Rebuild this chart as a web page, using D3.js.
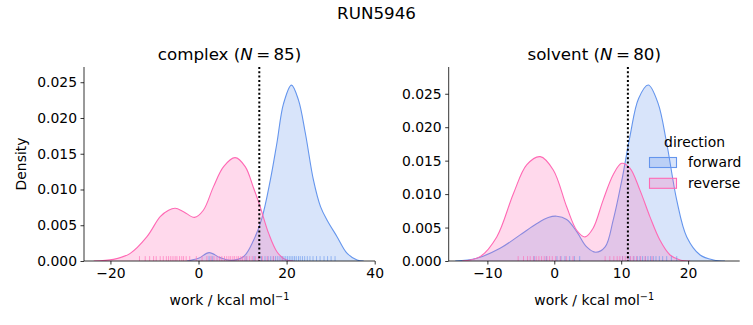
<!DOCTYPE html>
<html>
<head>
<meta charset="utf-8">
<script src="https://cdn.jsdelivr.net/npm/d3@7"></script>
<style>
  body { margin: 0; background: white; }
  svg { font-family: "DejaVu Sans", sans-serif; }
</style>
</head>
<body>
<svg id="chart" width="753" height="325"></svg>
<script>
// KDE curves: [work, density]
const complexForwardKde = [
  [-2.6, 0], [0.0, 0.00037], [2.4, 0.00117], [4.9, 0.00047], [7.2, 0.0001],
  [10.2, 0.0006], [12.5, 0.0029], [14.4, 0.006], [16.3, 0.0113], [17.8, 0.0165],
  [19.3, 0.022], [21.1, 0.0246], [22.7, 0.0225], [24.25, 0.0179], [26.1, 0.0113],
  [27.7, 0.0076], [29.2, 0.0057], [31.45, 0.0034], [33.7, 0.0011], [36, 0.00014], [37.5, 0]
];
const complexReverseKde = [
  [-23.8, 0], [-19.3, 0.00023], [-15.5, 0.00107], [-11.7, 0.0034], [-8.7, 0.0062],
  [-6.8, 0.0071], [-5.3, 0.00737], [-3.4, 0.0069], [-0.9, 0.0061], [1.1, 0.0071],
  [3.4, 0.0104], [5.7, 0.0132], [8.3, 0.01445], [10.6, 0.0132], [12.5, 0.0102],
  [14.0, 0.0076], [15.9, 0.0039], [17.8, 0.0013], [19.7, 0.0002], [21.6, 0]
];
const solventForwardKde = [
  [-14.8, 0], [-11.6, 0.0004], [-8.1, 0.0019], [-5.1, 0.0039], [-2.6, 0.0056],
  [-0.9, 0.0065], [0.36, 0.0067], [1.85, 0.0062], [3.35, 0.0044], [4.84, 0.0021],
  [6.2, 0.0013], [7.6, 0.0021], [8.8, 0.0061], [10.1, 0.0121], [11.3, 0.0186],
  [12.6, 0.0243], [14.05, 0.0263], [15.5, 0.0236], [16.8, 0.0176], [18.3, 0.0091],
  [19.8, 0.0036], [21.8, 0.0009], [23.8, 0.00015], [25.5, 0]
];
const solventReverseKde = [
  [-13.8, 0], [-11.1, 0.00065], [-8.6, 0.0036], [-6.1, 0.0101], [-4.1, 0.0144],
  [-2.1, 0.0156], [-0.15, 0.0136], [1.85, 0.0081], [3.35, 0.0046], [4.6, 0.0036],
  [5.8, 0.0049], [7.3, 0.0091], [8.8, 0.0129], [10.07, 0.0146], [11.3, 0.0139],
  [12.8, 0.0106], [14.3, 0.0066], [15.8, 0.0031], [17.3, 0.0009], [18.8, 0.00015], [20.3, 0]
];

// rug values (work, kcal/mol)
const complexForwardWork = [2.4, 3.1, 10.8, 12.6, 14.3, 15.1, 15.8, 16.4, 17.0, 17.5, 18.0, 18.5,
  19.0, 19.4, 19.8, 20.2, 20.6, 21.0, 21.4, 21.8, 22.2, 22.7, 23.1, 23.6, 24.1, 24.7, 25.3,
  26.0, 26.8, 27.6, 28.5, 29.3, 30.1, 31.0];
const complexReverseWork = [-13.4, -12.1, -11.1, -10.2, -9.6, -8.7, -8.0, -7.3, -6.8, -6.3, -5.8,
  -5.3, -4.9, -4.3, -3.8, -3.4, -2.8, -2.0, -0.5, 0.8, 1.9, 2.8, 3.5, 4.2, 4.8, 5.3, 5.9, 6.4,
  6.9, 7.3, 7.8, 8.2, 8.7, 9.1, 9.6, 10.0, 10.5, 11.0, 11.6, 12.2, 12.9, 13.6, 14.5, 15.6, 17.0, 19.0];
const solventForwardWork = [-3.0, -1.2, 0.4, 1.0, 1.6, 2.3, 3.0, 3.8, 10.2, 11.3, 11.9, 12.4, 12.8,
  13.2, 13.6, 14.0, 14.4, 14.8, 15.2, 15.7, 16.2, 16.8, 17.5, 18.3];
const solventReverseWork = [-5.4, -4.6, -4.0, -3.6, -3.1, -2.7, -2.3, -1.9, -1.5, -1.1, -0.7, -0.3,
  0.2, 0.9, 1.8, 2.8, 7.6, 8.3, 8.9, 9.4, 9.8, 10.2, 10.6, 11.0, 11.4, 11.8, 12.3, 12.9, 13.6, 14.6];

const panelNames = ["complex", "solvent"];
const panelN = [85, 80];
const freeEnergy = [13.8, 11.0]; // dotted line
const xTicks = [[-20, 0, 20, 40], [-10, 0, 10, 20]];
const yTicks = [0, 0.005, 0.01, 0.015, 0.02, 0.025];
const directions = ["forward", "reverse"];

const colors = { forward: "#6495ED", reverse: "#FF69B4" };

const panels = [
  { left: 84, right: 375, xDomain: [-26, 40.07], yMax: 0.02713,
    kde: { forward: complexForwardKde, reverse: complexReverseKde },
    rug: { forward: complexForwardWork, reverse: complexReverseWork } },
  { left: 448.7, right: 739.7, xDomain: [-15.78, 27.71], yMax: 0.029,
    kde: { forward: solventForwardKde, reverse: solventReverseKde },
    rug: { forward: solventForwardWork, reverse: solventReverseWork } },
];
const plotTop = 67, plotBottom = 261;
const tickFont = "13.9px";

const svg = d3.select("#chart");

svg.append("text")
  .attr("x", 376.5).attr("y", 19)
  .attr("text-anchor", "middle")
  .style("font-size", "16.7px")
  .text("RUN5946");

panels.forEach((p, i) => {
  const x = d3.scaleLinear().domain(p.xDomain).range([p.left, p.right]);
  const y = d3.scaleLinear().domain([0, p.yMax]).range([plotBottom, plotTop]);
  const g = svg.append("g");

  // smooth spline, kept above the baseline
  const curve = d3.curveCatmullRom.alpha(0.5);
  const area = d3.area()
    .x((d) => x(d[0])).y0(plotBottom).y1((d) => y(d[1]))
    .curve(curve);
  const line = d3.line()
    .x((d) => x(d[0])).y((d) => y(d[1]))
    .curve(curve);

  const clipId = "clip" + i;
  svg.append("clipPath").attr("id", clipId)
    .append("rect")
    .attr("x", p.left).attr("y", plotTop - 5)
    .attr("width", p.right - p.left).attr("height", plotBottom - plotTop + 5);
  const curves = g.append("g").attr("clip-path", `url(#${clipId})`);

  directions.forEach((dir) => {
    curves.append("path").datum(p.kde[dir])
      .attr("d", area)
      .attr("fill", colors[dir]).attr("fill-opacity", 0.25);
    curves.append("path").datum(p.kde[dir])
      .attr("d", line)
      .attr("fill", "none").attr("stroke", colors[dir]).attr("stroke-width", 1.1);
  });

  // rug
  directions.forEach((dir) => {
    g.selectAll(null).data(p.rug[dir]).enter().append("line")
      .attr("x1", (d) => x(d)).attr("x2", (d) => x(d))
      .attr("y1", plotBottom).attr("y2", plotBottom - 4.9)
      .attr("stroke", colors[dir]).attr("stroke-opacity", 0.6).attr("stroke-width", 1);
  });

  // dotted reference line
  g.append("line")
    .attr("x1", x(freeEnergy[i])).attr("x2", x(freeEnergy[i]))
    .attr("y1", plotTop).attr("y2", plotBottom)
    .attr("stroke", "black").attr("stroke-width", 2)
    .attr("stroke-dasharray", "2,2.3");

  // axes
  const xAxis = g.append("g")
    .attr("transform", `translate(0,${plotBottom})`)
    .call(d3.axisBottom(x).tickValues(xTicks[i]).tickSize(3.5).tickPadding(3.5)
      .tickFormat((d) => (d < 0 ? "\u2212" + Math.abs(d) : d)));
  const yAxis = g.append("g")
    .attr("transform", `translate(${p.left},0)`)
    .call(d3.axisLeft(y).tickValues(yTicks).tickSize(3.5).tickPadding(3.5)
      .tickFormat(d3.format(".3f")));
  [xAxis, yAxis].forEach((a) => {
    a.select(".domain").attr("stroke-width", 0.8);
    a.selectAll(".tick line").attr("stroke-width", 0.8);
    a.selectAll("text").style("font-size", tickFont)
      .style("font-family", "DejaVu Sans").attr("fill", "black");
  });
  xAxis.select(".domain").attr("d", `M${p.left},0H${p.right}`);
  yAxis.select(".domain").attr("d", `M0,${plotBottom}V${plotTop}`);

  // panel title
  const cx = (p.left + p.right) / 2;
  const t = svg.append("text")
    .attr("x", cx).attr("y", 59.5)
    .attr("text-anchor", "middle")
    .style("font-size", "16.7px");
  t.append("tspan").text(panelNames[i] + " (");
  t.append("tspan").style("font-style", "italic").text("N");
  t.append("tspan").text("\u2009=\u2009" + panelN[i] + ")");

  // x label
  const xl = svg.append("text")
    .attr("x", cx).attr("y", 304.5)
    .attr("text-anchor", "middle")
    .style("font-size", tickFont);
  xl.append("tspan").text("work / kcal mol");
  xl.append("tspan").attr("dy", -5).style("font-size", "9.7px").text("\u22121");
});

svg.append("text")
  .attr("transform", "translate(26,164) rotate(-90)")
  .attr("text-anchor", "middle")
  .style("font-size", tickFont)
  .text("Density");

// legend
const legend = svg.append("g");
legend.append("text")
  .attr("x", 694.5).attr("y", 146.5)
  .attr("text-anchor", "middle")
  .style("font-size", tickFont)
  .text("direction");
directions.forEach((dir, k) => {
  const yy = 157.5 + k * 20.8;
  legend.append("rect")
    .attr("x", 649.5).attr("y", yy)
    .attr("width", 27).attr("height", 10)
    .attr("fill", colors[dir]).attr("fill-opacity", 0.25)
    .attr("stroke", colors[dir]).attr("stroke-width", 1.1);
  legend.append("text")
    .attr("x", 688).attr("y", yy + 9.5)
    .style("font-size", tickFont)
    .text(dir);
});
</script>
</body>
</html>
